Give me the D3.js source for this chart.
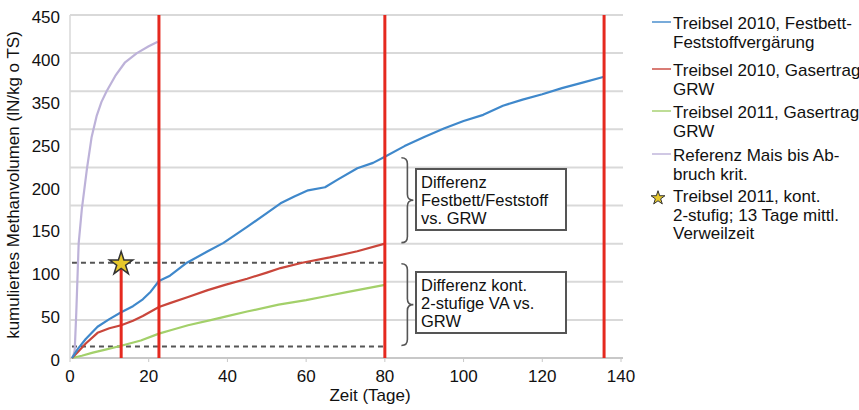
<!DOCTYPE html>
<html>
<head>
<meta charset="utf-8">
<script src="https://cdn.jsdelivr.net/npm/d3@7"></script>
<style>
  body { margin: 0; background: #fff; }
  svg text { font-family: "Liberation Sans", Arial, sans-serif; fill: #111; }
</style>
</head>
<body>
<svg id="chart" width="859" height="410"></svg>
<script>
// Axis ticks
const xTicks = [0, 20, 40, 60, 80, 100, 120, 140];
const yGridValues = [0, 50, 100, 150, 200, 250, 300, 350, 400, 450];
const yTickLabels = ["0", "50", "100", "150", "200", "250", "350", "400", "450"];

// Cumulative methane volume [day, value]
const treibsel2010Festbett = [[0.5,0],[2,12],[4,25],[7,41],[10,51],[13,60],[16,68],[18.5,77],[20.5,87],[22.6,101],[25.4,108],[29.7,125],[35,140],[39,151],[45,172],[50,190],[53.5,203],[57,212],[60.5,220],[64.8,224],[68,234],[73,249],[77,256],[80,264],[85,278],[90,290],[95,301],[100,311],[105,319],[110,331],[115,339],[120,346],[125,354],[130,361],[135.7,369]];
const treibsel2010GRW = [[0.5,0],[2,8],[4,19],[7,33],[10,39],[13,43],[16,49],[18.5,55],[22.6,67],[25.4,72],[30,80],[35,89],[39.4,96],[45,104],[50,112],[53.5,118],[59,125],[66,132],[73,140],[80,150]];
const treibsel2011GRW = [[0.5,0],[3,3],[5.8,7],[9,11],[13,16],[18,23],[22.6,32],[26,37],[30,43],[36,50],[40,55],[45,61],[53,70],[60,76],[65,81],[70,86],[75,91],[80,96]];
const referenzMais = [[0.7,0],[1.2,10],[1.6,60],[2.2,150],[3,195],[4.3,248],[5.5,290],[6.8,318],[8,336],[9.3,350],[11.5,370],[14,388],[17,400],[20,409],[22.3,415]];

// Continuous two-stage run: 13 days mean retention time
const starDay = 13;
const starValue = 125;
// Reference levels (dashed) and marker days (red verticals)
const dashedLevels = [125, 15];
const dashedEndDay = 80;
const markerDays = [22.6, 80, 135.7];

const legendEntries = [
  { lines: ["Treibsel 2010, Festbett-", "Feststoffvergärung"], color: "#3f88cb", type: "line" },
  { lines: ["Treibsel 2010, Gasertrag", "GRW"], color: "#c9463b", type: "line" },
  { lines: ["Treibsel 2011, Gasertrag", "GRW"], color: "#a3d06a", type: "line" },
  { lines: ["Referenz Mais bis Ab-", "bruch krit."], color: "#bdb2d9", type: "line" },
  { lines: ["Treibsel 2011, kont.", "2-stufig; 13 Tage mittl.", "Verweilzeit"], color: "#e7c82a", type: "star" }
];

const svg = d3.select("#chart");
const x = d3.scaleLinear().domain([0, 140]).range([70, 621]);
const y = d3.scaleLinear().domain([0, 450]).range([358, 15]);
const yLabelPos = d3.scalePoint().domain(yTickLabels).range([360, 17]);

// Gridlines
svg.append("g").selectAll("line").data(yGridValues).join("line")
  .attr("x1", x(0)).attr("x2", x(140) + 2)
  .attr("y1", d => y(d)).attr("y2", d => y(d))
  .attr("stroke", d => d === 0 ? "#c8c8c8" : "#d9d9d9")
  .attr("stroke-width", 2);

// Left axis line
svg.append("line")
  .attr("x1", x(0)).attr("x2", x(0)).attr("y1", y(450)).attr("y2", y(0))
  .attr("stroke", "#d9d9d9").attr("stroke-width", 1.5);

// X ticks
svg.append("g").selectAll("line").data(xTicks).join("line")
  .attr("x1", d => x(d)).attr("x2", d => x(d))
  .attr("y1", y(0)).attr("y2", y(0) + 4)
  .attr("stroke", "#c8c8c8");

svg.append("g").selectAll("text").data(xTicks).join("text")
  .attr("x", d => x(d)).attr("y", 382)
  .attr("text-anchor", "middle").attr("font-size", 17)
  .text(d => d);

svg.append("g").selectAll("text").data(yTickLabels).join("text")
  .attr("x", 60).attr("y", d => yLabelPos(d) + 6)
  .attr("text-anchor", "end").attr("font-size", 17)
  .text(d => d);

// Axis titles
svg.append("text")
  .attr("x", 370).attr("y", 401).attr("text-anchor", "middle").attr("font-size", 17)
  .text("Zeit (Tage)");
svg.append("text")
  .attr("transform", "translate(19,185) rotate(-90)")
  .attr("text-anchor", "middle").attr("font-size", 17)
  .text("kumuliertes Methanvolumen (lN/kg o TS)");

// Dashed reference levels
svg.append("g").selectAll("line").data(dashedLevels).join("line")
  .attr("x1", x(0.5)).attr("x2", x(dashedEndDay))
  .attr("y1", d => y(d)).attr("y2", d => y(d))
  .attr("stroke", "#555").attr("stroke-width", 2).attr("stroke-dasharray", "5,4");

// Series lines
const line = d3.line().x(d => x(d[0])).y(d => y(d[1]));
const series = [
  { data: referenzMais, color: "#bdb2d9" },
  { data: treibsel2011GRW, color: "#a3d06a" },
  { data: treibsel2010GRW, color: "#c9463b" },
  { data: treibsel2010Festbett, color: "#3f88cb" }
];
svg.append("g").selectAll("path").data(series).join("path")
  .attr("d", d => line(d.data))
  .attr("fill", "none").attr("stroke", d => d.color).attr("stroke-width", 2.2)
  .attr("stroke-linejoin", "round");

// Red marker verticals
svg.append("g").selectAll("line").data(markerDays).join("line")
  .attr("x1", d => x(d)).attr("x2", d => x(d))
  .attr("y1", y(450)).attr("y2", y(0))
  .attr("stroke", "#e5291f").attr("stroke-width", 3);

// Short vertical up to the star
svg.append("line")
  .attr("x1", x(starDay)).attr("x2", x(starDay))
  .attr("y1", y(0)).attr("y2", y(starValue))
  .attr("stroke", "#e5291f").attr("stroke-width", 3);

const star = d3.symbol().type(d3.symbolStar);
svg.append("path")
  .attr("d", star.size(170)())
  .attr("transform", `translate(${x(starDay)},${y(starValue) + 1})`)
  .attr("fill", "#e7c82a").attr("stroke", "#333").attr("stroke-width", 1.5);

// Curly braces
function brace(xb, y1, y2, w) {
  const ym = (y1 + y2) / 2, r = 6, xm = xb + w / 2;
  return `M${xb},${y1} Q${xm},${y1} ${xm},${y1 + r} L${xm},${ym - r} Q${xm},${ym} ${xb + w},${ym}` +
         ` Q${xm},${ym} ${xm},${ym + r} L${xm},${y2 - r} Q${xm},${y2} ${xb},${y2}`;
}
const blueEnd80 = treibsel2010Festbett.find(d => d[0] === 80)[1];
const redEnd80 = treibsel2010GRW[treibsel2010GRW.length - 1][1];
const braces = [[blueEnd80, redEnd80], [dashedLevels[0], dashedLevels[1]]];
svg.append("g").selectAll("path").data(braces).join("path")
  .attr("d", d => brace(x(84.2), y(d[0]) + 1, y(d[1]) - 1, 12))
  .attr("fill", "none").attr("stroke", "#555").attr("stroke-width", 1.6);

// Annotation boxes
const boxes = [
  { top: 169, lines: ["Differenz", "Festbett/Feststoff", "vs. GRW"] },
  { top: 272, lines: ["Differenz kont.", "2-stufige VA vs.", "GRW"] }
];
const boxG = svg.append("g").selectAll("g").data(boxes).join("g")
  .attr("transform", d => `translate(416,${d.top})`);
boxG.append("rect")
  .attr("width", 150).attr("height", 61)
  .attr("fill", "#fff").attr("stroke", "#555").attr("stroke-width", 2);
boxG.selectAll("text").data(d => d.lines).join("text")
  .attr("x", 5).attr("y", (d, i) => 18.5 + i * 18.4)
  .attr("font-size", 16.5).text(d => d);

// Legend
const legendBaselines = [29, 76, 118, 161, 202];
const lg = svg.append("g").selectAll("g").data(legendEntries).join("g")
  .attr("transform", (d, i) => `translate(652,${legendBaselines[i]})`);
lg.filter(d => d.type === "line").append("line")
  .attr("x1", 0).attr("x2", 19).attr("y1", -7).attr("y2", -7)
  .attr("stroke", d => d.color).attr("stroke-width", 2).attr("opacity", 0.7);
lg.filter(d => d.type === "star").append("path")
  .attr("d", star.size(60)())
  .attr("transform", "translate(6,-4)")
  .attr("fill", d => d.color).attr("stroke", "#333").attr("stroke-width", 1);
lg.selectAll("text").data(d => d.lines).join("text")
  .attr("x", 21).attr("y", (d, i) => i * 18.6)
  .attr("font-size", 17).text(d => d);
</script>
</body>
</html>
